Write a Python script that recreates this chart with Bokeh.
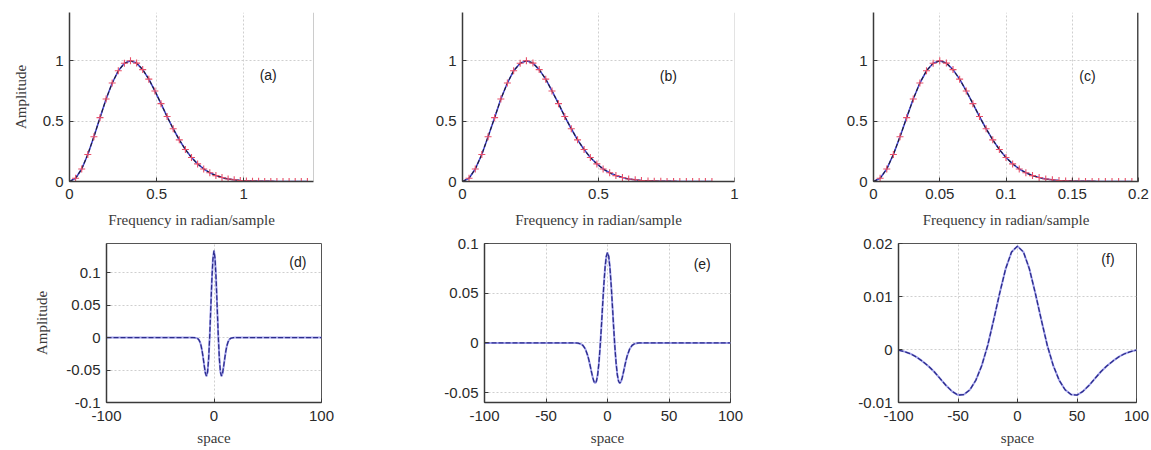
from bokeh.plotting import figure
from bokeh.layouts import row, column
from bokeh.models import FixedTicker, Range1d, Label, Span
from bokeh.embed import file_html
from bokeh.resources import INLINE

# ---------------- data ----------------
freq_a = [0, 0.035, 0.07, 0.105, 0.14, 0.175, 0.21, 0.245, 0.28, 0.315,
          0.35, 0.385, 0.42, 0.455, 0.49, 0.525, 0.56, 0.595, 0.63, 0.665,
          0.7, 0.735, 0.77, 0.805, 0.84, 0.875, 0.91, 0.945, 0.98, 1.015,
          1.05, 1.085, 1.12, 1.155, 1.19, 1.225, 1.26, 1.295, 1.33, 1.365]
freq_b = [0, 0.024, 0.047, 0.071, 0.094, 0.118, 0.141, 0.165, 0.188, 0.212,
          0.235, 0.259, 0.282, 0.306, 0.329, 0.353, 0.376, 0.400, 0.423, 0.447,
          0.470, 0.494, 0.517, 0.541, 0.564, 0.588, 0.611, 0.635, 0.658, 0.682,
          0.705, 0.729, 0.752, 0.776, 0.799, 0.823, 0.846, 0.870, 0.893, 0.917]
freq_c = [0, 0.005, 0.01, 0.015, 0.02, 0.025, 0.03, 0.035, 0.04, 0.045,
          0.05, 0.055, 0.06, 0.065, 0.07, 0.075, 0.08, 0.085, 0.09, 0.095,
          0.1, 0.105, 0.11, 0.115, 0.12, 0.125, 0.13, 0.135, 0.14, 0.145,
          0.15, 0.155, 0.16, 0.165, 0.17, 0.175, 0.18, 0.185, 0.19, 0.195]
amp_top = [0, 0.027, 0.104, 0.224, 0.371, 0.529, 0.683, 0.816, 0.917, 0.979,
           1.0, 0.981, 0.927, 0.848, 0.750, 0.645, 0.538, 0.437, 0.345, 0.265,
           0.199, 0.146, 0.104, 0.072, 0.049, 0.033, 0.021, 0.014, 0.008, 0.005,
           0.003, 0.002, 0.001, 0.001, 0, 0, 0, 0, 0, 0]

space_d = [-100, -20, -18, -16, -15, -14, -13, -12, -11, -10, -9, -8, -7, -6, -5,
           -4, -3, -2, -1, 0, 1, 2, 3, 4, 5, 6, 7, 8, 9, 10, 11, 12, 13, 14, 15,
           16, 18, 20, 100]
amp_d = [0, 0, -0.0001, -0.0008, -0.0017, -0.0036, -0.0070, -0.0126, -0.0210,
         -0.0319, -0.0441, -0.0547, -0.0594, -0.0532, -0.0329, 0.0016, 0.0453,
         0.0888, 0.1211, 0.134, 0.1211, 0.0888, 0.0453, 0.0016, -0.0329, -0.0532,
         -0.0594, -0.0547, -0.0441, -0.0319, -0.0210, -0.0126, -0.0070, -0.0036,
         -0.0017, -0.0008, -0.0001, 0, 0]

space_e = [-100, -26, -24, -22, -20, -18, -16, -15, -14, -13, -12, -11, -10, -9,
           -8, -7, -6, -5, -4, -3, -2, -1, 0, 1, 2, 3, 4, 5, 6, 7, 8, 9, 10, 11,
           12, 13, 14, 15, 16, 18, 20, 22, 24, 26, 100]
amp_e = [0, 0, -0.0003, -0.0009, -0.0025, -0.0062, -0.0131, -0.0179, -0.0235,
         -0.0294, -0.0348, -0.0390, -0.0406, -0.0386, -0.0321, -0.0205, -0.0042,
         0.0156, 0.0372, 0.0580, 0.0754, 0.0870, 0.091, 0.0870, 0.0754, 0.0580,
         0.0372, 0.0156, -0.0042, -0.0205, -0.0321, -0.0386, -0.0406, -0.0390,
         -0.0348, -0.0294, -0.0235, -0.0179, -0.0131, -0.0062, -0.0025, -0.0009,
         -0.0003, 0, 0]

space_f = [-100, -95, -90, -85, -80, -75, -70, -65, -60, -55, -50, -45, -40, -35,
           -30, -25, -20, -15, -10, -5, 0, 5, 10, 15, 20, 25, 30, 35, 40, 45, 50,
           55, 60, 65, 70, 75, 80, 85, 90, 95, 100]
amp_f = [-0.0001, -0.0004, -0.0008, -0.0014, -0.0022, -0.0031, -0.0042, -0.0055,
         -0.0068, -0.0079, -0.0086, -0.0085, -0.0076, -0.0058, -0.0030, 0.0008,
         0.0056, 0.0106, 0.0152, 0.0184, 0.0195, 0.0184, 0.0152, 0.0106, 0.0056,
         0.0008, -0.0030, -0.0058, -0.0076, -0.0085, -0.0086, -0.0079, -0.0068,
         -0.0055, -0.0042, -0.0031, -0.0022, -0.0014, -0.0008, -0.0004, -0.0001]

# tick labels
xt_ab = [0, 0.5, 1]
xt_ab_lbl = ["0", "0.5", "1"]
xt_c = [0, 0.05, 0.1, 0.15, 0.2]
xt_c_lbl = ["0", "0.05", "0.1", "0.15", "0.2"]
yt_top = [0, 0.5, 1]
yt_top_lbl = ["0", "0.5", "1"]
xt_d = [-100, 0, 100]
xt_d_lbl = ["-100", "0", "100"]
xt_ef = [-100, -50, 0, 50, 100]
xt_ef_lbl = ["-100", "-50", "0", "50", "100"]
yt_d = [-0.1, -0.05, 0, 0.05, 0.1]
yt_d_lbl = ["-0.1", "-0.05", "0", "0.05", "0.1"]
yt_e = [-0.05, 0, 0.05, 0.1]
yt_e_lbl = ["-0.05", "0", "0.05", "0.1"]
yt_f = [-0.01, 0, 0.01, 0.02]
yt_f_lbl = ["-0.01", "0", "0.01", "0.02"]

xlabel_top = "Frequency in radian/sample"
xlabel_bot = "space"
ylabel = "Amplitude"
panel_tags = ["(a)", "(b)", "(c)", "(d)", "(e)", "(f)"]

TICK_FONT = "Liberation Sans"
LABEL_FONT = "Liberation Serif"


def make(xr, yr, fw, fh, bl, br, bt, bb):
    p = figure(x_range=Range1d(*xr), y_range=Range1d(*yr),
               width=bl + fw + br, height=bt + fh + bb,
               min_border_left=bl, min_border_right=br,
               min_border_top=bt, min_border_bottom=bb,
               output_backend="svg", toolbar_location=None)
    p.background_fill_color = "white"
    p.border_fill_color = "white"
    return p


def style(p, xt, xl, yt, yl, xlabel, ylab, box, xs1, xs2, ys2):
    p.xaxis.ticker = FixedTicker(ticks=xt)
    p.yaxis.ticker = FixedTicker(ticks=yt)
    p.xaxis.major_label_overrides = {t: s for t, s in zip(xt, xl)}
    p.yaxis.major_label_overrides = {t: s for t, s in zip(yt, yl)}
    for ax in (p.xaxis[0], p.yaxis[0]):
        ax.major_tick_in = 4
        ax.major_tick_out = 0
        ax.minor_tick_line_color = None
        ax.axis_line_color = "#3a3a3a"
        ax.axis_line_width = 1.5
        ax.major_tick_line_color = "#3a3a3a"
        ax.major_label_text_font = TICK_FONT
        ax.major_label_text_font_size = "15px"
        ax.major_label_text_color = "#2a2a2a"
        ax.axis_label_text_font = LABEL_FONT
        ax.axis_label_text_font_size = "15px"
        ax.axis_label_text_font_style = "normal"
        ax.axis_label_text_color = "#3a3a3a"
    p.xaxis.major_label_standoff = xs1
    p.xaxis.axis_label_standoff = xs2
    p.yaxis.major_label_standoff = 6
    p.yaxis.axis_label_standoff = ys2
    p.xaxis.axis_label = xlabel
    if ylab:
        p.yaxis.axis_label = ylab
    p.xgrid.ticker = FixedTicker(ticks=xt)
    p.ygrid.ticker = FixedTicker(ticks=yt)
    p.grid.grid_line_color = "#cfcfcf"
    p.grid.grid_line_dash = "2 2"
    p.grid.grid_line_width = 1
    if box:
        p.outline_line_color = "#555555"
        p.outline_line_width = 1
    else:
        p.outline_line_color = None


def right_spine(p, x, color, width):
    p.add_layout(Span(location=x, dimension="height", line_color=color,
                      line_width=width))


def tag(p, x, y, t):
    p.add_layout(Label(x=x, y=y, text=t, text_font=TICK_FONT,
                       text_font_size="14px", text_color="#222222",
                       text_align="center", text_baseline="middle"))


def top_curve(p, fx, amp):
    p.line(fx, amp, line_color="#4a4ad8", line_width=1.6)
    p.line(fx, amp, line_color="#1e1e2e", line_width=1.1, line_dash="4 2")
    p.scatter(fx, amp, marker="cross", size=7, line_color="#e8506a",
              line_width=1.1)


def bot_curve(p, sx, amp):
    p.line(sx, amp, line_color="#a0a0ea", line_width=2.0)
    p.line(sx, amp, line_color="#2c2c8c", line_width=1.3, line_dash="5 2")


# ---------------- top row (frames 12..181) ----------------
pa = make((0, 1.4), (0, 1.4), 244, 169, 69, 67, 12, 49)
style(pa, xt_ab, xt_ab_lbl, yt_top, yt_top_lbl, xlabel_top, ylabel, False,
      7, 10, 11)
right_spine(pa, 1.4, "#9a9a9a", 1)
top_curve(pa, freq_a, amp_top)
tag(pa, 1.14, 0.88, panel_tags[0])

pb = make((0, 1), (0, 1.4), 272, 169, 82, 56, 12, 49)
style(pb, xt_ab, xt_ab_lbl, yt_top, yt_top_lbl, xlabel_top, None, False,
      7, 10, 11)
right_spine(pb, 1.0, "#c8c8c8", 1)
top_curve(pb, freq_b, amp_top)
tag(pb, 0.757, 0.87, panel_tags[1])

pc = make((0, 0.2), (0, 1.4), 265, 169, 83, 12, 12, 49)
style(pc, xt_c, xt_c_lbl, yt_top, yt_top_lbl, xlabel_top, None, False,
      7, 10, 11)
right_spine(pc, 0.2, "#4a4a4a", 3)
top_curve(pc, freq_c, amp_top)
tag(pc, 0.1615, 0.875, panel_tags[2])

# ---------------- bottom row (frames 243..402) ----------------
pd_ = make((-100, 100), (-0.1, 0.145), 215, 159, 106, 59, 13, 46)
style(pd_, xt_d, xt_d_lbl, yt_d, yt_d_lbl, xlabel_bot, ylabel, True,
      8, 6, 13)
bot_curve(pd_, space_d, amp_d)
tag(pd_, 78, 0.116, panel_tags[3])

pe = make((-100, 100), (-0.06, 0.1), 246, 159, 104, 60, 13, 46)
style(pe, xt_ef, xt_ef_lbl, yt_e, yt_e_lbl, xlabel_bot, None, True,
      8, 6, 13)
bot_curve(pe, space_e, amp_e)
tag(pe, 77, 0.079, panel_tags[4])

pf = make((-100, 100), (-0.01, 0.02), 238, 159, 108, 14, 13, 46)
style(pf, xt_ef, xt_ef_lbl, yt_f, yt_f_lbl, xlabel_bot, None, True,
      8, 6, 13)
bot_curve(pf, space_f, amp_f)
tag(pf, 76, 0.017, panel_tags[5])

layout = column(row(pa, pb, pc, spacing=0), row(pd_, pe, pf, spacing=0),
                spacing=0)

open("out.html", "w").write(file_html(layout, INLINE))
